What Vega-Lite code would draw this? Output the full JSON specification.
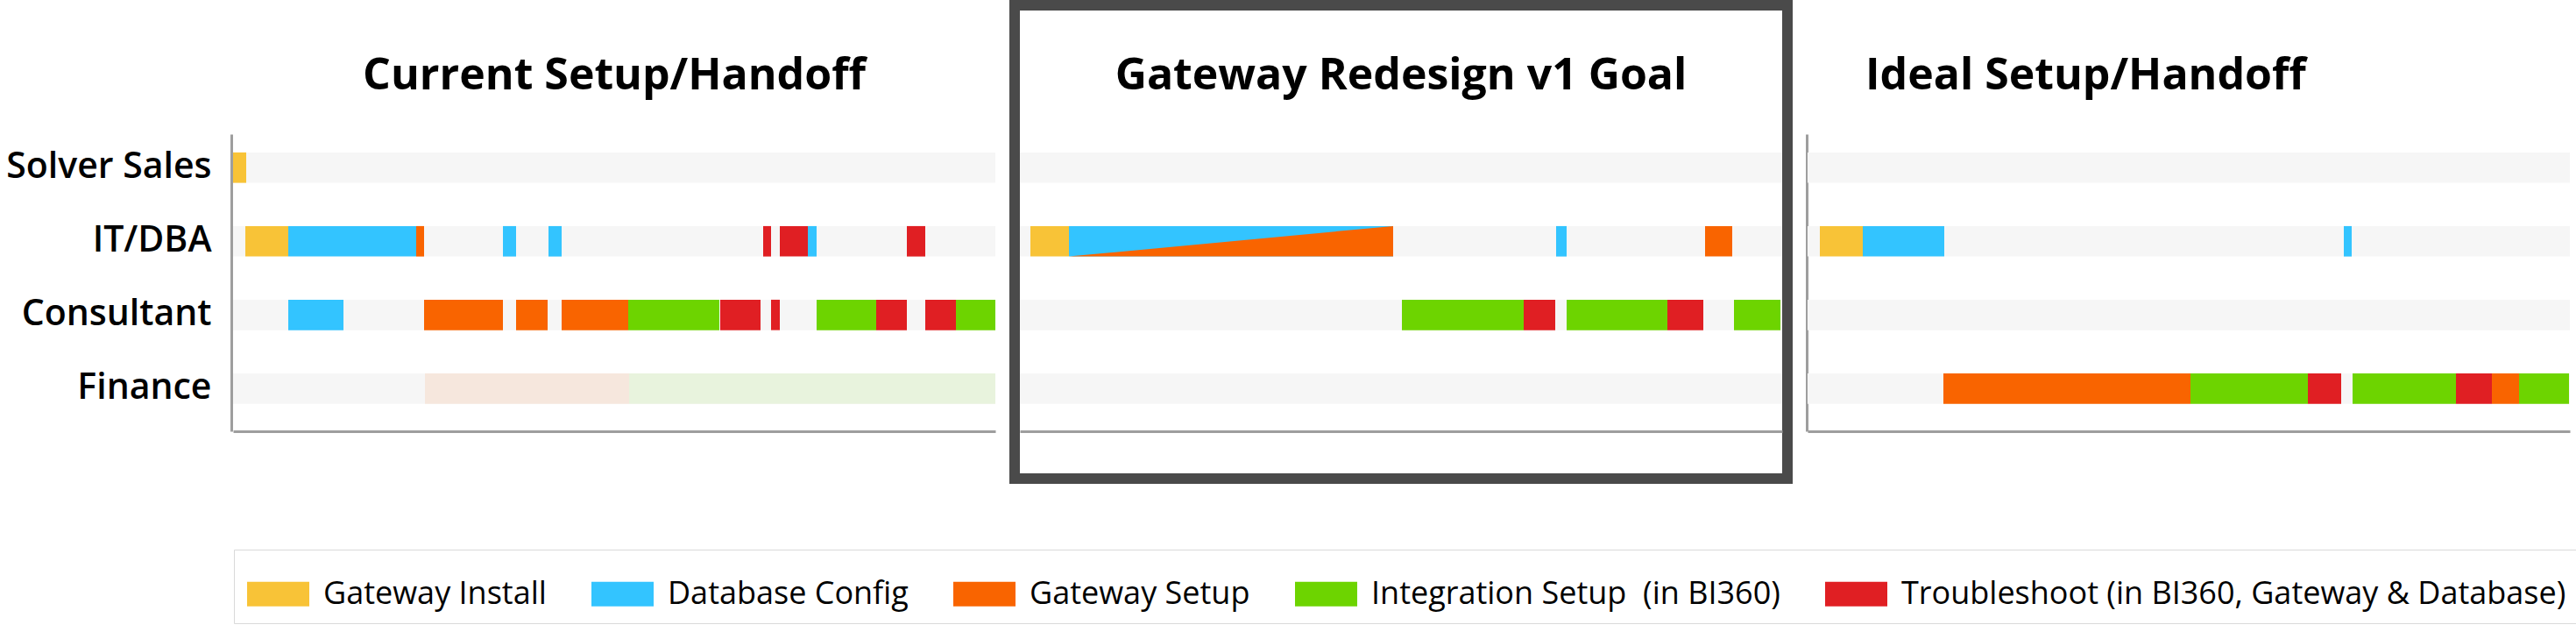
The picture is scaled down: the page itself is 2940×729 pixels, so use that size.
{
  "$schema": "https://vega.github.io/schema/vega-lite/v6.json",
  "background": "white",
  "padding": 0,
  "autosize": {"type": "pad"},
  "spacing": 10,
  "config": {
    "font": "Open Sans",
    "view": {"stroke": null},
    "title": {"font": "Open Sans", "fontSize": 50, "fontWeight": 700, "color": "#000000", "baseline": "alphabetic", "offset": -106, "frame": "group"},
    "axis": {"domainColor": "#9e9e9e", "domainWidth": 3, "ticks": false, "grid": false, "labels": false}
  },
  "datasets": {
    "roles": [{"role": "Solver Sales"}, {"role": "IT/DBA"}, {"role": "Consultant"}, {"role": "Finance"}],
    "segments": [
      {"view": "current", "role": "Solver Sales", "task": "Gateway Install", "start": 0, "end": 1.5},
      {"view": "current", "role": "IT/DBA", "task": "Gateway Install", "start": 1.4, "end": 6.3},
      {"view": "current", "role": "IT/DBA", "task": "Database Config", "start": 6.3, "end": 20.9},
      {"view": "current", "role": "IT/DBA", "task": "Gateway Setup", "start": 20.9, "end": 21.8},
      {"view": "current", "role": "IT/DBA", "task": "Database Config", "start": 30.8, "end": 32.3},
      {"view": "current", "role": "IT/DBA", "task": "Database Config", "start": 36.0, "end": 37.5},
      {"view": "current", "role": "IT/DBA", "task": "Troubleshoot", "start": 60.5, "end": 61.4},
      {"view": "current", "role": "IT/DBA", "task": "Troubleshoot", "start": 62.4, "end": 65.6},
      {"view": "current", "role": "IT/DBA", "task": "Database Config", "start": 65.6, "end": 66.6},
      {"view": "current", "role": "IT/DBA", "task": "Troubleshoot", "start": 76.9, "end": 79.0},
      {"view": "current", "role": "Consultant", "task": "Database Config", "start": 6.3, "end": 12.6},
      {"view": "current", "role": "Consultant", "task": "Gateway Setup", "start": 21.8, "end": 30.8},
      {"view": "current", "role": "Consultant", "task": "Gateway Setup", "start": 32.3, "end": 35.9},
      {"view": "current", "role": "Consultant", "task": "Gateway Setup", "start": 37.5, "end": 45.1},
      {"view": "current", "role": "Consultant", "task": "Integration Setup", "start": 45.1, "end": 55.5},
      {"view": "current", "role": "Consultant", "task": "Troubleshoot", "start": 55.6, "end": 60.2},
      {"view": "current", "role": "Consultant", "task": "Troubleshoot", "start": 61.4, "end": 62.4},
      {"view": "current", "role": "Consultant", "task": "Integration Setup", "start": 66.6, "end": 73.4},
      {"view": "current", "role": "Consultant", "task": "Troubleshoot", "start": 73.4, "end": 76.9},
      {"view": "current", "role": "Consultant", "task": "Troubleshoot", "start": 79.0, "end": 82.5},
      {"view": "current", "role": "Consultant", "task": "Integration Setup", "start": 82.5, "end": 87},
      {"view": "current", "role": "Finance", "task": "Gateway Setup", "start": 21.9, "end": 45.2, "tentative": true},
      {"view": "current", "role": "Finance", "task": "Integration Setup", "start": 45.2, "end": 87, "tentative": true},
      {"view": "v1goal", "role": "IT/DBA", "task": "Gateway Install", "start": 1.2, "end": 5.6},
      {"view": "v1goal", "role": "IT/DBA", "task": "Database Config", "start": 5.6, "end": 42.6},
      {"view": "v1goal", "role": "IT/DBA", "task": "Database Config", "start": 61.2, "end": 62.4},
      {"view": "v1goal", "role": "IT/DBA", "task": "Gateway Setup", "start": 78.2, "end": 81.3},
      {"view": "v1goal", "role": "Consultant", "task": "Integration Setup", "start": 43.6, "end": 57.5},
      {"view": "v1goal", "role": "Consultant", "task": "Troubleshoot", "start": 57.5, "end": 61.1},
      {"view": "v1goal", "role": "Consultant", "task": "Integration Setup", "start": 62.4, "end": 73.9},
      {"view": "v1goal", "role": "Consultant", "task": "Troubleshoot", "start": 73.9, "end": 78.0},
      {"view": "v1goal", "role": "Consultant", "task": "Integration Setup", "start": 81.5, "end": 86.8},
      {"view": "ideal", "role": "IT/DBA", "task": "Gateway Install", "start": 1.4, "end": 6.3},
      {"view": "ideal", "role": "IT/DBA", "task": "Database Config", "start": 6.3, "end": 15.6},
      {"view": "ideal", "role": "IT/DBA", "task": "Database Config", "start": 61.2, "end": 62.1},
      {"view": "ideal", "role": "Finance", "task": "Gateway Setup", "start": 15.5, "end": 43.7},
      {"view": "ideal", "role": "Finance", "task": "Integration Setup", "start": 43.7, "end": 57.1},
      {"view": "ideal", "role": "Finance", "task": "Troubleshoot", "start": 57.1, "end": 60.9},
      {"view": "ideal", "role": "Finance", "task": "Integration Setup", "start": 62.2, "end": 74.0},
      {"view": "ideal", "role": "Finance", "task": "Troubleshoot", "start": 74.0, "end": 78.1},
      {"view": "ideal", "role": "Finance", "task": "Gateway Setup", "start": 78.1, "end": 81.2},
      {"view": "ideal", "role": "Finance", "task": "Integration Setup", "start": 81.2, "end": 86.9}
    ],
    "ramp": [
      {"view": "v1goal", "role": "IT/DBA", "task": "Gateway Setup", "x": 5.6, "share": 0},
      {"view": "v1goal", "role": "IT/DBA", "task": "Gateway Setup", "x": 42.6, "share": 1}
    ]
  },
  "hconcat": [
    {
      "width": 870,
      "height": 540,
      "view": {"stroke": "transparent", "strokeWidth": 12},
      "title": {"text": "Current Setup/Handoff", "anchor": "middle"},
      "layer": [
        {
          "data": {"name": "roles"},
          "mark": {"type": "bar", "color": "#F6F6F6"},
          "encoding": {
            "y": {"field": "role", "type": "nominal", "sort": null,
                  "scale": {"domain": ["Solver Sales", "IT/DBA", "Consultant", "Finance"], "range": [147, 486], "paddingInner": 0.587, "paddingOuter": 0.311, "align": 0.4},
                  "axis": {"title": null, "labels": true, "labelFont": "Open Sans", "labelFontSize": 41, "labelFontWeight": 600, "labelColor": "#000000", "labelPadding": 23, "labelLimit": 600, "offset": 2, "minExtent": 258, "maxExtent": 258}},
            "x": {"datum": 0, "type": "quantitative", "scale": {"domain": [0, 87], "nice": false, "zero": false}, "axis": {"title": null, "offset": -54}},
            "x2": {"datum": 87}
          }
        },
        {
          "data": {"name": "segments"},
          "transform": [{"filter": "datum.view === 'current'"}],
          "mark": {"type": "bar"},
          "encoding": {
            "y": {"field": "role", "type": "nominal", "sort": null},
            "x": {"field": "start", "type": "quantitative"},
            "x2": {"field": "end"},
            "opacity": {"condition": {"test": "datum.tentative === true", "value": 0.1}, "value": 1},
            "color": {
              "field": "task", "type": "nominal",
              "scale": {
                "domain": ["Gateway Install", "Database Config", "Gateway Setup", "Integration Setup", "Troubleshoot"],
                "range": ["#F8C337", "#33C4FF", "#F96400", "#6DD400", "#E01F23"]
              },
              "legend": {
                "title": null, "orient": "none", "legendX": 1, "legendY": 621, "direction": "horizontal",
                "padding": 15, "strokeColor": "#d9d9d9", "fillColor": "#ffffff",
                "labelFont": "Open Sans", "labelFontSize": 36, "labelColor": "#000000", "labelLimit": 2000,
                "labelOffset": 16, "columnPadding": 51,
                "symbolType": "M-1,-0.394L1,-0.394L1,0.394L-1,0.394Z", "symbolSize": 5041, "symbolStrokeWidth": 0,
                "labelExpr": "datum.label === 'Integration Setup' ? 'Integration Setup \u00a0(in BI360)' : datum.label === 'Troubleshoot' ? 'Troubleshoot (in BI360, Gateway & Database)' : datum.label",
                "encode": {
                  "legend": {"strokeWidth": {"value": 3}},
                  "symbols": {
                    "fillOpacity": {"value": {"expr": "datum.value === 'Gateway Setup' ? 0.8 : datum.value === 'Integration Setup' ? 0.64 : 1"}}
                  }
                }
              }
            }
          }
        }
      ]
    },
    {
      "width": 882,
      "height": 540,
      "view": {"stroke": "#4A4A4A", "strokeWidth": 12},
      "title": {"text": "Gateway Redesign v1 Goal", "anchor": "middle"},
      "layer": [
        {
          "layer": [
            {
              "data": {"name": "roles"},
              "mark": {"type": "bar", "color": "#F6F6F6"},
              "encoding": {
                "y": {"field": "role", "type": "nominal", "sort": null,
                      "scale": {"domain": ["Solver Sales", "IT/DBA", "Consultant", "Finance"], "range": [147, 486], "paddingInner": 0.587, "paddingOuter": 0.311, "align": 0.4},
                      "axis": null},
                "x": {"datum": 0, "type": "quantitative", "scale": {"domain": [0, 87], "nice": false, "zero": false, "range": [6, 876]}, "axis": {"title": null, "offset": -54}},
                "x2": {"datum": 87}
              }
            },
            {
              "data": {"name": "segments"},
              "transform": [{"filter": "datum.view === 'v1goal'"}],
              "mark": {"type": "bar"},
              "encoding": {
                "y": {"field": "role", "type": "nominal", "sort": null},
                "x": {"field": "start", "type": "quantitative"},
                "x2": {"field": "end"},
                "color": {"field": "task", "type": "nominal"}
              }
            }
          ]
        },
        {
          "data": {"name": "ramp"},
          "mark": {"type": "area", "opacity": 1, "interpolate": "linear"},
          "encoding": {
            "x": {"field": "x", "type": "quantitative"},
            "y": {"field": "share", "type": "quantitative", "scale": {"domain": [0, 1], "range": [286.6, 251.9], "nice": false, "zero": false}, "axis": null},
            "y2": {"datum": 0},
            "color": {"field": "task", "type": "nominal"}
          }
        }
      ],
      "resolve": {"scale": {"y": "independent"}, "axis": {"y": "independent"}}
    },
    {
      "width": 870,
      "height": 540,
      "view": {"stroke": "transparent", "strokeWidth": 12},
      "title": {"text": "Ideal Setup/Handoff", "anchor": "start", "dx": 66},
      "layer": [
        {
          "data": {"name": "roles"},
          "mark": {"type": "bar", "color": "#F6F6F6"},
          "encoding": {
            "y": {"field": "role", "type": "nominal", "sort": null,
                  "scale": {"domain": ["Solver Sales", "IT/DBA", "Consultant", "Finance"], "range": [147, 486], "paddingInner": 0.587, "paddingOuter": 0.311, "align": 0.4},
                  "axis": {"title": null, "offset": 1}},
            "x": {"datum": 0, "type": "quantitative", "scale": {"domain": [0, 87], "nice": false, "zero": false}, "axis": {"title": null, "offset": -54}},
            "x2": {"datum": 87}
          }
        },
        {
          "data": {"name": "segments"},
          "transform": [{"filter": "datum.view === 'ideal'"}],
          "mark": {"type": "bar"},
          "encoding": {
            "y": {"field": "role", "type": "nominal", "sort": null},
            "x": {"field": "start", "type": "quantitative"},
            "x2": {"field": "end"},
            "color": {"field": "task", "type": "nominal"}
          }
        }
      ]
    }
  ]
}
